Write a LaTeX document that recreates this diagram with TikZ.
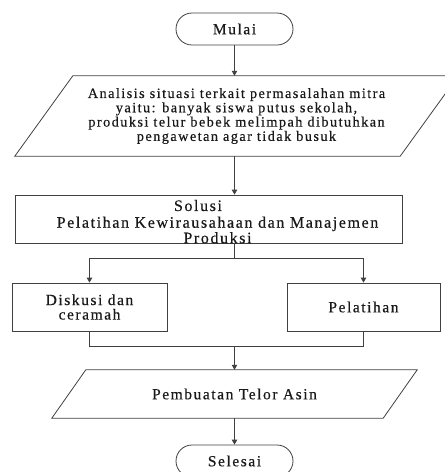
\documentclass[tikz,border=0pt]{standalone}
\usepackage{fontspec}
\setmainfont{Liberation Serif}[LetterSpace=10,FakeBold=0.4]
\usetikzlibrary{arrows.meta,shapes.misc,calc}
\begin{document}
\begin{tikzpicture}[x=1pt,y=-1pt,
  line/.style={draw=black!75, line width=0.8pt},
  arr/.style={line, -{Triangle[length=5pt,width=5.5pt]}},
  txt/.style={align=center, inner sep=0pt, text=black!90, font=\fontsize{15.5}{14.5}\selectfont},
  term/.style={line, txt, rounded rectangle, minimum width=117pt, minimum height=32pt},
  box/.style={line, txt, rectangle, minimum height=48pt}]
\useasboundingbox (0,0) rectangle (445,472);
\clip (0,0) rectangle (445,472);

\node[term] (mulai) at (234.5,29) {Mulai};

\node[txt, minimum width=443pt, minimum height=80pt, font=\fontsize{14.3}{14.3}\selectfont] (anal) at (236.5,116)
  {Analisis situasi terkait permasalahan mitra\\yaitu: banyak siswa putus sekolah,\\produksi telur bebek melimpah dibutuhkan\\pengawetan agar tidak busuk};
\draw[line] ([xshift=58pt]anal.north west) -- (anal.north east) -- ([xshift=-58pt]anal.south east) -- (anal.south west) -- cycle;

\coordinate (ax) at (234.5,0);
\draw[arr] (mulai.south) -- (mulai.south |- anal.north);

\node[box, minimum width=387pt] (solusi) at (208.5,219) {};
\node[txt, font=\fontsize{16}{14.5}\selectfont] (soltitle) at (198,205.5) {Solusi};
\node[txt, font=\fontsize{16}{14.5}\selectfont] (soltext) at (217.5,230) {Pelatihan Kewirausahaan dan Manajemen\\Produksi};
\draw[arr] (anal.south -| ax) -- (solusi.north -| ax);

\coordinate (split) at (234.5,258);
\node[box, minimum width=155pt] (disk) at (89.5,307) {Diskusi dan\\ceramah};
\node[box, minimum width=153pt] (pel) at (363.5,307) {Pelatihan};
\draw[line] (solusi.south -| split) -- (split);
\draw[arr] (split) -| (disk.north);
\draw[arr] (split) -| (pel.north);

\node[txt, minimum width=365pt, minimum height=48pt] (buat) at (234.5,394) {Pembuatan Telor Asin};
\draw[line] ([xshift=34pt]buat.north west) -- (buat.north east) -- ([xshift=-34pt]buat.south east) -- (buat.south west) -- cycle;

\coordinate (join) at (234.5,346);
\draw[line] (disk.south) |- (join);
\draw[line] (pel.south) |- (join);
\draw[arr] (join) -- (join |- buat.north);

\node[term] (selesai) at (234.5,461) {Selesai};
\draw[arr] (buat.south) -- (selesai.north);
\end{tikzpicture}
\end{document}
